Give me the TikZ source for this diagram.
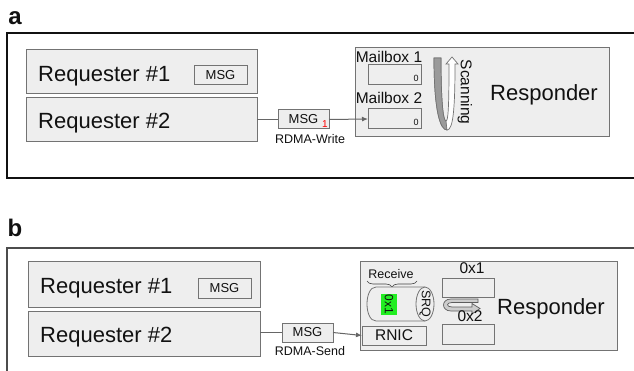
\documentclass[tikz,border=0pt]{standalone}
\usepackage{fontspec}
\setmainfont{Liberation Sans}
\usetikzlibrary{decorations.pathreplacing,arrows.meta}
\definecolor{boxfill}{HTML}{EEEEEE}
\definecolor{boxline}{HTML}{737373}
\definecolor{arrowgray}{HTML}{666666}
\definecolor{ink}{HTML}{111111}
\definecolor{srqgreen}{HTML}{22EE22}
\definecolor{ribbongray}{HTML}{9A9A9A}
\begin{document}
\begin{tikzpicture}[x=1pt,y=-1pt,
  box/.style={draw=boxline, fill=boxfill, line width=1pt, inner sep=0pt, outer sep=0pt, anchor=north west},
  frame/.style={draw=ink, line width=1.3pt},
  conn/.style={draw=arrowgray, line width=1pt},
  arr/.style={conn, -{Latex[length=6pt,width=5pt]}},
  big/.style={font=\fontsize{22}{24}\selectfont, text=ink, inner sep=0pt},
  mid/.style={font=\fontsize{15.5}{17}\selectfont, text=ink, inner sep=0pt},
  msgt/.style={font=\fontsize{13}{14}\selectfont, text=ink, inner sep=0pt},
  smallt/.style={font=\fontsize{12.5}{14}\selectfont, text=ink, inner sep=0pt},
  tiny/.style={font=\fontsize{9}{10}\selectfont, text=ink, inner sep=0pt},
  panel/.style={font=\fontsize{24}{26}\selectfont\bfseries, text=ink, inner sep=0pt}
]
\useasboundingbox (0,0) rectangle (634,371);
\fill[white] (0,0) rectangle (634,371);

% ---------------- panel a ----------------
\node[panel, anchor=base] (la) at (15,25) {a};
\draw[frame] (640,33) -- (7,33) -- (7,178) -- (640,178);

\node[box, minimum width=231, minimum height=44] (r1a) at (26,50) {};
\node[box, minimum width=231, minimum height=44] (r2a) at (26,98) {};
\node[big, anchor=base west] (t1a) at (38,82) {Requester \#1};
\node[big, anchor=base west] (t2a) at (38,129) {Requester \#2};
\node[box, minimum width=53, minimum height=19, msgt] (m1a) at (194,66) {MSG};
\node[box, minimum width=51, minimum height=19, msgt] (m2a) at (278,110) {MSG};
\node[font=\fontsize{10}{11}\selectfont, text=red, inner sep=0pt, anchor=base] (red1) at (325,128) {1};
\node[smallt, anchor=base] (rw) at (310,144) {RDMA-Write};

\node[box, minimum width=254, minimum height=89] (respa) at (355,48) {};
\node[big, anchor=base] (rtxa) at (544,101) {Responder};
\node[mid, anchor=base] (mb1t) at (389,63) {Mailbox 1};
\node[mid, anchor=base] (mb2t) at (389,104) {Mailbox 2};
\node[box, minimum width=53, minimum height=20] (mb1) at (368,65) {};
\node[box, minimum width=53, minimum height=20] (mb2) at (368,109) {};
\node[tiny, anchor=base] (z1) at (416,82) {0};
\node[tiny, anchor=base] (z2) at (416,126) {0};

\draw[conn] (r2a.east |- m2a.west) -- (m2a.west);
\draw[arr] (m2a.east) -- (mb2.west);

% scanning ribbon
\draw[draw=boxline, fill=white, line width=0.7pt]
  (434,58) .. controls (434,110) and (440,130) .. (447,130)
  .. controls (453,130) and (455,110) .. (455,64)
  -- (458,64) -- (452,57) -- (446,64) -- (449,64)
  .. controls (449,110) and (448,121) .. (446,121)
  .. controls (443,121) and (441,100) .. (441,58) -- cycle;
\draw[draw=boxline, fill=ribbongray, line width=0.7pt]
  (434,58) .. controls (434,110) and (440,130) .. (447,130)
  -- (446,121) .. controls (443,121) and (441,100) .. (441,58) -- cycle;
\node[mid, rotate=-90] (scan) at (465,92) {Scanning};

% ---------------- panel b ----------------
\node[panel, anchor=base] (lb) at (15,237) {b};
\draw[frame, draw=ink!75] (640,248) -- (7,248) -- (7,380);

\node[box, minimum width=232, minimum height=45] (r1b) at (28,262) {};
\node[box, minimum width=232, minimum height=45] (r2b) at (28,311) {};
\node[big, anchor=base west] (t1b) at (40,293) {Requester \#1};
\node[big, anchor=base west] (t2b) at (40,342) {Requester \#2};
\node[box, minimum width=53, minimum height=20, msgt] (m1b) at (198,278) {MSG};
\node[box, minimum width=51, minimum height=19, msgt] (m2b) at (282,323) {MSG};
\node[smallt, anchor=base] (rs) at (310,355) {RDMA-Send};

\node[box, minimum width=257, minimum height=88] (respb) at (360,262) {};
\node[big, anchor=base] (rtxb) at (551,314) {Responder};
\node[box, minimum width=64, minimum height=19, mid] (rnic) at (362,326) {RNIC};
\node[box, minimum width=52, minimum height=19] (bx1) at (442,278) {};
\node[box, minimum width=52, minimum height=20] (bx2) at (442,324) {};
\node[mid, anchor=base] (hx1) at (472,273) {0x1};

\draw[conn] (r2b.east |- m2b.west) -- (m2b.west);
\draw[arr] (m2b.east) -- (rnic.west);

% receive brace
\node[smallt, anchor=base] (recv) at (391,278) {Receive};
\draw[draw=ink!80, line width=0.6pt, decorate, decoration={brace, amplitude=6pt}] (417,281) -- (367,281);

% SRQ cylinder
\draw[draw=boxline, fill=boxfill, line width=0.8pt]
  (425,287) -- (376,287) .. controls (364,287) and (364,321) .. (376,321) -- (425,321);
\draw[draw=boxline, fill=boxfill, line width=0.8pt] (425,304) ellipse [x radius=9, y radius=17];
\node[smallt, rotate=-90] (srq) at (425,304) {SRQ};
\node[fill=srqgreen, rotate=-90, minimum width=21, minimum height=16, inner sep=0pt,
      font=\fontsize{12}{13}\selectfont, text=ink] (g01) at (389,304.5) {0x1};

% loop arrow
\draw[draw=boxline!80!black, fill=boxfill!70!gray, line width=0.7pt]
  (478,299) -- (451,299) .. controls (441,299) and (441,311) .. (451,311)
  -- (472,311) -- (472,314) -- (480,308.5) -- (472,303.5) -- (472,307) -- (452,307)
  .. controls (446,307) and (446,302.5) .. (452,302.5) -- (478,302.5) -- cycle;
\node[mid, anchor=base] (hx2) at (470,321) {0x2};
\end{tikzpicture}
\end{document}
